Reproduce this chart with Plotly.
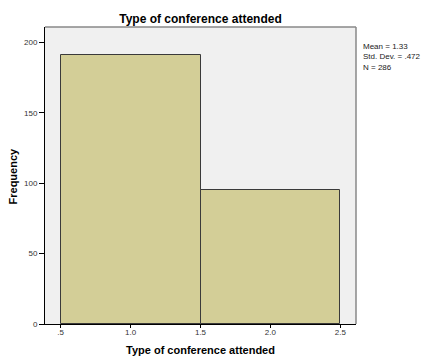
import plotly.graph_objects as go

# Histogram of conference type: bin centres and frequencies
bin_centers = [1.0, 2.0]
frequencies = [191, 95]
bin_width = 1.0
x_tick_vals = [0.5, 1.0, 1.5, 2.0, 2.5]
x_tick_text = [".5", "1.0", "1.5", "2.0", "2.5"]
y_tick_vals = [0, 50, 100, 150, 200]
stats_text = "Mean = 1.33<br>Std. Dev. = .472<br>N = 286"
axis_title = "Type of conference attended"
y_title = "Frequency"

fig = go.Figure()
fig.add_trace(go.Bar(
    x=bin_centers,
    y=frequencies,
    width=[bin_width] * len(bin_centers),
    marker=dict(color="#D3CE97", line=dict(color="#3a3a3a", width=1)),
    hoverinfo="x+y",
))

fig.update_layout(
    width=421, height=356,
    margin=dict(l=45, r=65, t=27, b=32, autoexpand=False),
    paper_bgcolor="white",
    plot_bgcolor="#F0F0F0",
    font=dict(family="Liberation Sans, Arial, sans-serif", size=9, color="#222"),
    showlegend=False,
    bargap=0,
    title=dict(
        text="<b>" + axis_title + "</b>",
        x=0.5, xref="paper", xanchor="center",
        y=1, yref="paper", yanchor="bottom", pad=dict(b=4),
        font=dict(size=12, color="black"),
    ),
    xaxis=dict(
        range=[0.388, 2.612],
        tickvals=x_tick_vals, ticktext=x_tick_text,
        ticks="outside", ticklen=3, tickcolor="black",
        ticklabelstandoff=-3,
        showline=True, linecolor="black", linewidth=1,
        mirror=False, showgrid=False, zeroline=False,
        automargin=False,
        tickfont=dict(size=8, color="#333"),
    ),
    yaxis=dict(
        range=[0, 211],
        tickvals=y_tick_vals,
        ticks="outside", ticklen=5, tickcolor="black",
        showline=True, linecolor="black", linewidth=1,
        showgrid=False, zeroline=False,
        automargin=False,
        tickfont=dict(size=8, color="#333"),
    ),
    shapes=[
        # top and right frame of the plot area
        dict(type="line", xref="paper", yref="paper", x0=0, x1=1, y0=1, y1=1,
             line=dict(color="#888", width=1.5)),
        dict(type="line", xref="paper", yref="paper", x0=1, x1=1, y0=0, y1=1,
             line=dict(color="#888", width=1.5)),
    ],
    annotations=[
        dict(text=stats_text, xref="paper", yref="paper", x=1.015, y=0.955,
             xanchor="left", yanchor="top", align="left", showarrow=False,
             font=dict(size=8, color="#222")),
        # axis titles
        dict(text="<b>" + axis_title + "</b>", xref="paper", yref="paper",
             x=0.5, y=-0.0875, xanchor="center", yanchor="middle",
             showarrow=False, font=dict(size=11, color="black")),
        dict(text="<b>" + y_title + "</b>", xref="paper", yref="paper",
             x=-0.103, y=0.5, xanchor="center", yanchor="middle",
             textangle=-90, showarrow=False,
             font=dict(size=11, color="black")),
    ],
)

fig.write_html("out.html")
